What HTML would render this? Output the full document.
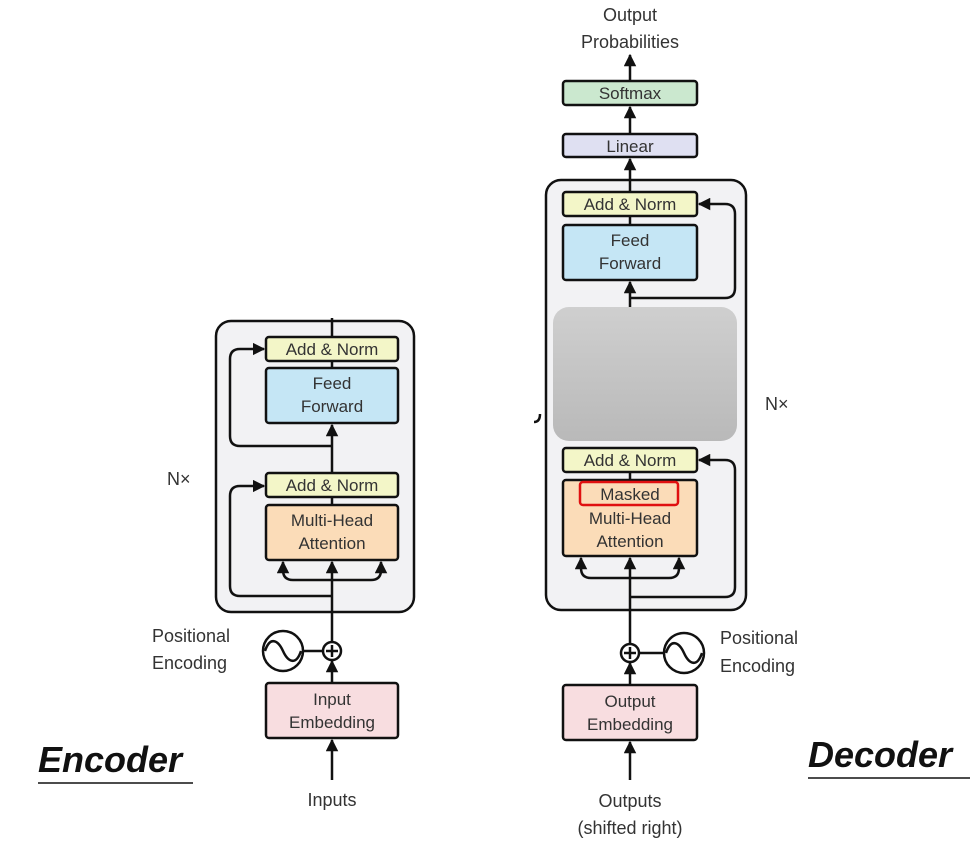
<!DOCTYPE html>
<html><head><meta charset="utf-8"><style>
html,body{margin:0;padding:0;background:#fff;}
svg{display:block;}
text{font-family:"Liberation Sans",sans-serif;fill:#333;}
</style></head><body>
<svg width="974" height="847" viewBox="0 0 974 847" xmlns="http://www.w3.org/2000/svg">
<defs>
<marker id="a" viewBox="0 0 10 10" refX="9" refY="5" markerWidth="5" markerHeight="5" orient="auto"><path d="M0,0 L10,5 L0,10 z" fill="#111"/></marker>
<linearGradient id="g" x1="0" y1="0" x2="0" y2="1"><stop offset="0" stop-color="#cfcfcf"/><stop offset="1" stop-color="#b9b9b9"/></linearGradient>
</defs>
<g stroke="#111" stroke-width="2.5" fill="none">
<!-- Encoder -->
<rect x="216" y="321" width="198" height="291" rx="15" fill="#f2f2f4"/>
<line x1="332" y1="780" x2="332" y2="740" marker-end="url(#a)"/>
<line x1="332" y1="683" x2="332" y2="661" marker-end="url(#a)"/>
<line x1="332" y1="641" x2="332" y2="562" marker-end="url(#a)"/>
<line x1="332" y1="318" x2="332" y2="337"/>
<line x1="332" y1="361" x2="332" y2="368"/>
<line x1="332" y1="497" x2="332" y2="505"/>
<line x1="332" y1="473" x2="332" y2="425" marker-end="url(#a)"/>
<path d="M332,580 H293 Q283,580 283,570 V562" marker-end="url(#a)"/>
<path d="M332,580 H371 Q381,580 381,570 V562" marker-end="url(#a)"/>
<path d="M332,596 H240 Q230,596 230,586 V496 Q230,486 240,486 H264" marker-end="url(#a)"/>
<path d="M332,446 H240 Q230,446 230,436 V359 Q230,349 240,349 H264" marker-end="url(#a)"/>
<rect x="266" y="337" width="132" height="24" rx="3" fill="#f3f6c8"/>
<rect x="266" y="368" width="132" height="55" rx="3" fill="#c5e6f5"/>
<rect x="266" y="473" width="132" height="24" rx="3" fill="#f3f6c8"/>
<rect x="266" y="505" width="132" height="55" rx="3" fill="#fbdcb8"/>
<rect x="266" y="683" width="132" height="55" rx="3" fill="#f8dde0"/>
<circle cx="332" cy="651" r="9" fill="#fff"/>
<line x1="326" y1="651" x2="338" y2="651"/><line x1="332" y1="645" x2="332" y2="657"/>
<line x1="303" y1="651" x2="323" y2="651"/>
<circle cx="283" cy="651" r="20" fill="#fff"/>
<path d="M265,651 C270,636 278,640 283,651 C288,662 296,666 301,651"/>
<!-- Decoder -->
<rect x="546" y="180" width="200" height="430" rx="15" fill="#f2f2f4"/>
<line x1="630" y1="780" x2="630" y2="742" marker-end="url(#a)"/>
<line x1="630" y1="685" x2="630" y2="663" marker-end="url(#a)"/>
<line x1="630" y1="643" x2="630" y2="558" marker-end="url(#a)"/>
<line x1="630" y1="472" x2="630" y2="480"/>
<line x1="630" y1="216" x2="630" y2="225"/>
<line x1="630" y1="307" x2="630" y2="282" marker-end="url(#a)"/>
<line x1="630" y1="192" x2="630" y2="159" marker-end="url(#a)"/>
<line x1="630" y1="134" x2="630" y2="107" marker-end="url(#a)"/>
<line x1="630" y1="81" x2="630" y2="55" marker-end="url(#a)"/>
<path d="M630,578 H591 Q581,578 581,568 V558" marker-end="url(#a)"/>
<path d="M630,578 H669 Q679,578 679,568 V558" marker-end="url(#a)"/>
<path d="M630,597 H725 Q735,597 735,587 V470 Q735,460 725,460 H699" marker-end="url(#a)"/>
<path d="M630,298 H725 Q735,298 735,288 V214 Q735,204 725,204 H699" marker-end="url(#a)"/>
<path d="M534,422 Q540,422 540,414"/>
<rect x="563" y="192" width="134" height="24" rx="3" fill="#f3f6c8"/>
<rect x="563" y="225" width="134" height="55" rx="3" fill="#c5e6f5"/>
<rect x="563" y="448" width="134" height="24" rx="3" fill="#f3f6c8"/>
<rect x="563" y="480" width="134" height="76" rx="3" fill="#fbdcb8"/>
<rect x="563" y="134" width="134" height="23" rx="3" fill="#dfe0f2"/>
<rect x="563" y="81" width="134" height="24" rx="3" fill="#cbe8cf"/>
<rect x="563" y="685" width="134" height="55" rx="3" fill="#f8dde0"/>
<circle cx="630" cy="653" r="9" fill="#fff"/>
<line x1="624" y1="653" x2="636" y2="653"/><line x1="630" y1="647" x2="630" y2="659"/>
<line x1="639" y1="653" x2="664" y2="653"/>
<circle cx="684" cy="653" r="20" fill="#fff"/>
<path d="M666,653 C671,638 679,642 684,653 C689,664 697,668 702,653"/>
</g>
<rect x="553" y="307" width="184" height="134" rx="16" fill="url(#g)"/>
<rect x="580" y="482" width="98" height="23" rx="3" fill="none" stroke="#e01010" stroke-width="2.5"/>
<g font-size="17" text-anchor="middle">
<text x="332" y="355">Add &amp; Norm</text>
<text x="332" y="389">Feed</text><text x="332" y="412">Forward</text>
<text x="332" y="491">Add &amp; Norm</text>
<text x="332" y="526">Multi-Head</text><text x="332" y="549">Attention</text>
<text x="332" y="705">Input</text><text x="332" y="728">Embedding</text>
<text x="332" y="806" font-size="18">Inputs</text>
<text x="630" y="210">Add &amp; Norm</text>
<text x="630" y="246">Feed</text><text x="630" y="269">Forward</text>
<text x="630" y="466">Add &amp; Norm</text>
<text x="630" y="500">Masked</text>
<text x="630" y="524">Multi-Head</text><text x="630" y="547">Attention</text>
<text x="630" y="152">Linear</text>
<text x="630" y="99">Softmax</text>
<text x="630" y="707">Output</text><text x="630" y="730">Embedding</text>
<text x="630" y="807" font-size="18">Outputs</text>
<text x="630" y="834" font-size="18">(shifted right)</text>
<text x="630" y="21" font-size="18">Output</text>
<text x="630" y="48" font-size="18">Probabilities</text>
</g>
<g font-size="18">
<text x="152" y="642">Positional</text><text x="152" y="669">Encoding</text>
<text x="720" y="644">Positional</text><text x="720" y="672">Encoding</text>
<text x="167" y="485">N×</text>
<text x="765" y="410">N×</text>
</g>
<text x="38" y="772" font-size="36" font-weight="bold" font-style="italic" style="fill:#111">Encoder</text>
<line x1="38" y1="783" x2="193" y2="783" stroke="#111" stroke-width="1.5"/>
<text x="808" y="767" font-size="36" font-weight="bold" font-style="italic" style="fill:#111">Decoder</text>
<line x1="808" y1="778" x2="970" y2="778" stroke="#111" stroke-width="1.5"/>
</svg>
</body></html>
